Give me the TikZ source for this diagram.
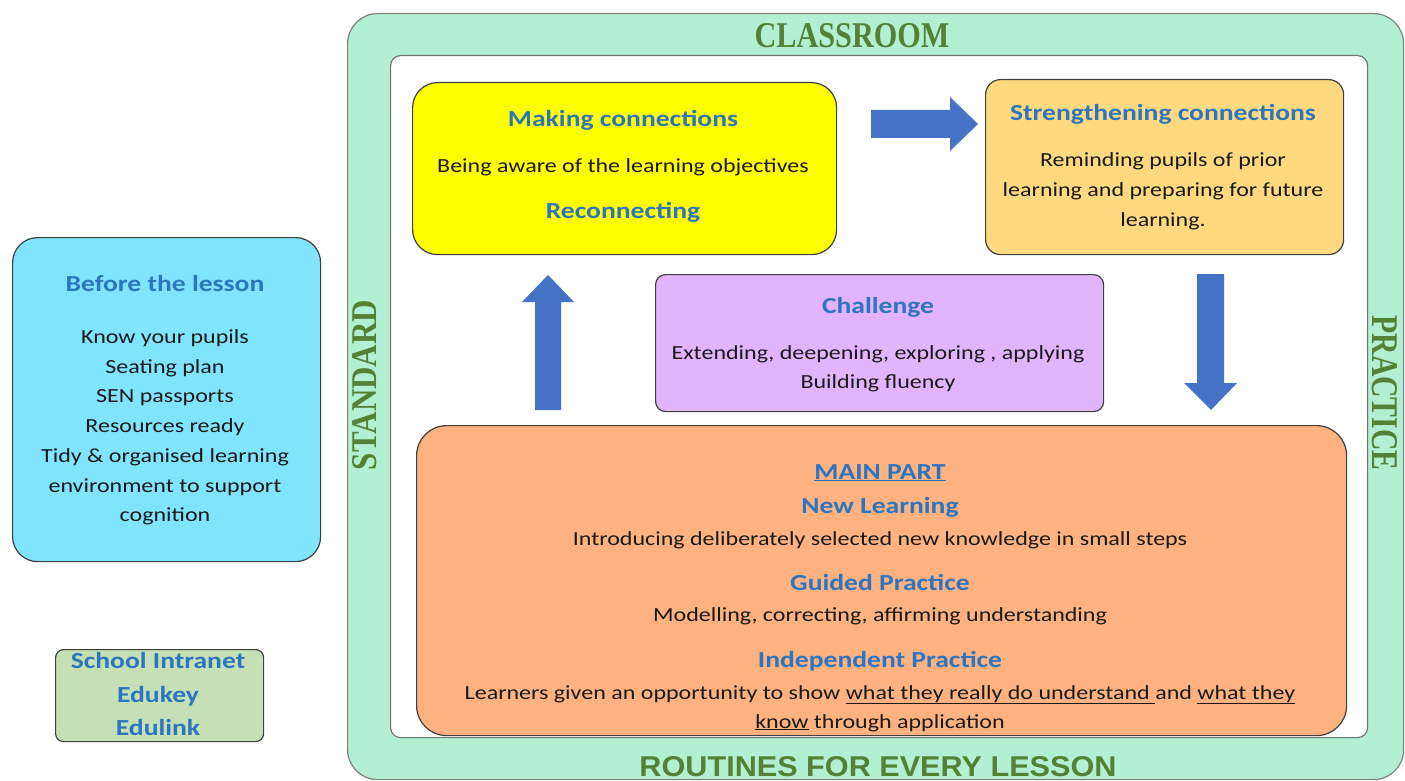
\documentclass[tikz,border=0pt]{standalone}
\usepackage{fontspec}
\setmainfont{Carlito}[FakeStretch=1.2]
\newfontfamily\serifhead{Liberation Serif}
\newfontfamily\sanshead{Liberation Sans}
\definecolor{framegreen}{HTML}{B3EFD3}
\definecolor{greentext}{HTML}{548235}
\definecolor{headblue}{HTML}{2E75C0}
\definecolor{bodyc}{HTML}{1A1A1A}
\definecolor{yellowbox}{HTML}{FFFF00}
\definecolor{strbox}{HTML}{FFD97F}
\definecolor{chalbox}{HTML}{E2B4FD}
\definecolor{mainbox}{HTML}{FDB27F}
\definecolor{beforebox}{HTML}{80E4FE}
\definecolor{schoolbox}{HTML}{C5E0B4}
\definecolor{arrowblue}{HTML}{4472C4}
\tikzset{
  box/.style={draw=black!75, line width=1.2pt, anchor=north west, inner sep=0pt},
  hd/.style={anchor=base, inner sep=0pt, text=headblue, font=\bfseries\fontsize{23}{27}\selectfont},
  bd/.style={anchor=base, inner sep=0pt, text=bodyc, font=\fontsize{20}{24}\selectfont},
  blockarrow/.style={fill=arrowblue, draw=none},
  greenlabel/.style={inner sep=0pt, text=greentext}
}
\begin{document}
\begin{tikzpicture}[x=1pt,y=-1pt]
\useasboundingbox (0,0) rectangle (1405,781);
% outer frame
\node[box, draw=black!50, fill=framegreen, rounded corners=30pt, minimum width=1056pt, minimum height=766pt] (frame) at (347,13) {};
\node[box, draw=black!55, fill=white, rounded corners=10pt, minimum width=977pt, minimum height=682pt] (inner) at (390,55) {};
% green labels
\node[greenlabel, anchor=base] (classroom) at (852,48) {\resizebox{195pt}{24pt}{\serifhead\bfseries CLASSROOM}};
\node[greenlabel, anchor=base] (routines) at (878,776) {\resizebox{477pt}{20pt}{\sanshead\bfseries ROUTINES FOR EVERY LESSON}};
\node[greenlabel, rotate=90] (standard) at (365,385) {\resizebox{170pt}{24pt}{\serifhead\bfseries STANDARD}};
\node[greenlabel, rotate=-90] (practice) at (1385,393) {\resizebox{155pt}{25pt}{\serifhead\bfseries PRACTICE}};
% boxes
\node[box, fill=yellowbox, rounded corners=25pt, minimum width=424pt, minimum height=172pt] (making) at (412,82) {};
\node[box, fill=strbox, rounded corners=15pt, minimum width=358pt, minimum height=175pt] (strength) at (985,79) {};
\node[box, fill=chalbox, rounded corners=10pt, minimum width=448pt, minimum height=137pt] (challenge) at (655,274) {};
\node[box, fill=mainbox, rounded corners=30pt, minimum width=930pt, minimum height=310pt] (main) at (416,425) {};
\node[box, fill=beforebox, rounded corners=25pt, minimum width=308pt, minimum height=324pt] (before) at (12,237) {};
\node[box, fill=schoolbox, rounded corners=8pt, minimum width=208pt, minimum height=92pt] (school) at (55,649) {};
% block arrows
\fill[blockarrow] (871,110) -- (950,110) -- (950,97) -- (978,124) -- (950,151) -- (950,138) -- (871,138) -- cycle;
\fill[blockarrow] (535,410) -- (535,302) -- (522,302) -- (548,275) -- (574,302) -- (561,302) -- (561,410) -- cycle;
\fill[blockarrow] (1197,274) -- (1224,274) -- (1224,383) -- (1237,383) -- (1211,410) -- (1184,383) -- (1197,383) -- cycle;
% making connections
\node[hd] (mc1) at (623,127) {Making connections};
\node[bd] (mc2) at (623,172) {Being aware of the learning objectives};
\node[hd] (mc3) at (623,218) {Reconnecting};
% strengthening
\node[hd] (sc1) at (1163,121) {Strengthening connections};
\node[bd] (sc2) at (1163,166) {Reminding pupils of prior};
\node[bd] (sc3) at (1163,196) {learning and preparing for future};
\node[bd] (sc4) at (1163,226) {learning.};
% challenge
\node[hd] (ch1) at (878,313) {Challenge};
\node[bd] (ch2) at (878,359) {Extending, deepening, exploring , applying};
\node[bd] (ch3) at (878,388) {Building fluency};
% before the lesson
\node[hd] (bl1) at (165,291) {Before the lesson};
\node[bd] (bl2) at (165,343) {Know your pupils};
\node[bd] (bl3) at (165,373) {Seating plan};
\node[bd] (bl4) at (165,402) {SEN passports};
\node[bd] (bl5) at (165,432) {Resources ready};
\node[bd] (bl6) at (165,462) {Tidy \& organised learning};
\node[bd] (bl7) at (165,492) {environment to support};
\node[bd] (bl8) at (165,521) {cognition};
% school
\node[hd] (si1) at (158,668) {School Intranet};
\node[hd] (si2) at (158,702) {Edukey};
\node[hd] (si3) at (158,735) {Edulink};
% main part
\node[hd] (mp1) at (880,479) {\underline{MAIN PART}};
\node[hd] (mp2) at (880,513) {New Learning};
\node[bd] (mp3) at (880,545) {Introducing deliberately selected new knowledge in small steps};
\node[hd] (mp4) at (880,590) {Guided Practice};
\node[bd] (mp5) at (880,621) {Modelling, correcting, affirming understanding};
\node[hd] (mp6) at (880,667) {Independent Practice};
\node[bd] (mp7) at (880,699) {Learners given an opportunity to show \underline{what they really do understand }and \underline{what they}};
\node[bd] (mp8) at (880,728) {\underline{know} through application};
\end{tikzpicture}
\end{document}
